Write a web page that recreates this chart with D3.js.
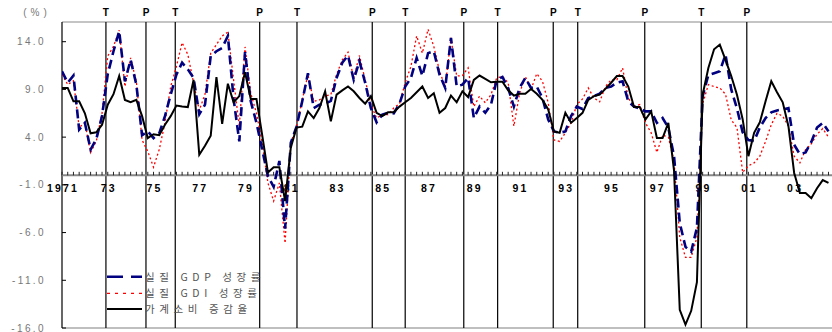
<!DOCTYPE html>
<html>
<head>
<meta charset="utf-8">
<script src="https://cdn.jsdelivr.net/npm/d3@7"></script>
<style>
body { margin: 0; background: #fff; }
svg { display: block; font-family: "Liberation Sans", Arial, sans-serif; }
</style>
</head>
<body>
<div id="chart"></div>
<script>
var width = 832, height = 332;

// quarterly data, 1971Q1 onward (year-on-year %)
var startYear = 1971;
var gdp = [10.9, 9.7, 10.45, 4.8, 5.5, 2.7, 3.8, 6.2, 10.6, 13.0,
    15.1, 9.85, 12.1, 9.5, 4.2, 4.6, 3.9, 4.4, 6.2, 8.45,
    10.55, 11.8, 11.1, 10.2, 6.4, 7.4, 12.5, 13.0, 13.35, 14.6,
    8.0, 3.55, 12.9, 7.75, 5.5, 2.7, -0.1, -1.2, 1.5, -5.6,
    3.4, 5.1, 7.75, 10.7, 7.05, 7.4, 7.5, 7.8, 10.2, 11.8,
    12.55, 10.0, 11.95, 9.7, 7.05, 5.55, 6.35, 6.55, 6.5, 7.5,
    9.3, 10.2, 12.3, 10.4, 12.8, 13.0, 10.55, 9.15, 14.4, 9.3,
    9.5, 10.2, 6.0, 7.2, 6.55, 7.4, 10.0, 10.3, 9.15, 7.2,
    9.15, 10.2, 9.15, 9.3, 8.1, 5.85, 4.6, 4.45, 4.6, 6.2,
    7.2, 6.95, 8.1, 8.3, 8.55, 9.15, 9.3, 9.7, 9.85, 7.75,
    7.2, 7.0, 6.7, 6.7, 5.5, 6.0, 5.0, 2.0, -5.0, -7.5,
    -8.0, -5.5, 8.3, 10.5, 10.7, 10.9, 12.65, 9.0, 7.0, 4.5,
    3.7, 3.6, 5.0, 6.0, 6.6, 6.8, 6.9, 7.05, 3.2, 2.2,
    2.4, 3.5, 5.0, 5.5, 4.6];
var gdi = [10.6, 9.5, 9.9, 5.0, 5.5, 2.4, 3.6, 6.5, 12.5, 13.5,
    15.2, 9.3, 12.3, 9.8, 3.7, 2.5, 0.85, 2.7, 5.5, 9.3,
    11.4, 13.9, 12.65, 9.7, 6.8, 8.5, 12.8, 13.7, 14.6, 15.0,
    10.0, 5.15, 13.45, 8.6, 6.5, 3.4, -0.8, -2.7, -0.8, -7.1,
    3.4, 5.1, 7.9, 10.55, 7.75, 7.9, 8.3, 8.45, 10.55, 12.1,
    12.9, 10.2, 12.55, 10.0, 7.4, 6.0, 6.35, 6.35, 7.05, 7.5,
    9.7, 11.4, 14.6, 12.8, 15.3, 13.5, 10.9, 9.3, 14.4, 10.4,
    10.45, 11.25, 7.2, 8.3, 7.6, 8.45, 10.2, 10.35, 9.7, 5.15,
    8.6, 10.35, 9.0, 10.65, 9.85, 7.6, 3.7, 3.55, 4.45, 5.5,
    7.4, 8.0, 9.15, 8.1, 7.7, 9.3, 10.0, 10.0, 11.25, 8.1,
    7.2, 7.4, 5.5, 4.45, 2.4, 4.2, 4.0, 1.5, -6.5, -8.6,
    -8.6, -6.5, 7.5, 9.5, 9.3, 9.15, 8.5, 5.8, 5.0, 0.3,
    1.0, 1.3, 2.0, 3.55, 5.3, 6.5, 6.2, 5.15, 2.0, 1.3,
    2.7, 3.3, 4.3, 4.9, 4.0];
var consumption = [9.15, 9.15, 7.75, 7.75, 6.5, 4.4, 4.5, 5.3, 7.4, 8.5,
    10.4, 7.9, 7.65, 7.9, 6.2, 3.9, 4.3, 4.2, 5.3, 6.2,
    7.3, 7.2, 7.15, 10.0, 2.15, 3.1, 4.15, 10.3, 5.4, 9.6,
    7.65, 8.3, 10.8, 8.0, 8.0, 4.2, 0.3, 0.85, 0.85, -2.7,
    2.9, 5.0, 5.1, 6.7, 6.0, 7.05, 8.8, 5.65, 8.45, 8.9,
    9.3, 8.8, 8.1, 7.5, 8.3, 6.55, 6.2, 6.6, 6.6, 7.2,
    7.65, 8.1, 8.7, 9.3, 8.1, 8.6, 6.55, 7.05, 8.35, 7.65,
    8.8, 8.2, 10.0, 10.45, 10.1, 9.75, 9.8, 9.8, 8.9, 8.35,
    8.55, 8.55, 9.05, 8.55, 7.9, 6.9, 4.6, 4.45, 6.55, 5.5,
    6.0, 6.55, 7.9, 8.3, 8.45, 9.05, 9.7, 10.4, 10.4, 9.3,
    7.15, 7.15, 5.85, 6.7, 3.9, 3.9, 5.5, 0.5, -14.1, -15.65,
    -14.2, -11.2, 8.45, 11.25, 13.2, 13.7, 12.1, 10.4, 8.45, 5.85,
    2.0, 4.45, 5.55, 7.75, 9.85, 8.7, 7.65, 5.15, 0.25, -1.85,
    -1.85, -2.4, -1.35, -0.5, -0.8];

// business cycle turning points (decimal year)
var cycleDates = [1972.92, 1974.67, 1975.95, 1979.64, 1981.27, 1984.56, 1986.0,
    1988.56, 1990.04, 1992.47, 1993.54, 1996.47, 1998.94, 2000.93];
var cycleLabels = ['T', 'P', 'T', 'P', 'T', 'P', 'T', 'P', 'T', 'P', 'T', 'P', 'T', 'P'];

var yTicks = [14, 9, 4, -1, -6, -11, -16];
var yearTicks = [1971, 1973, 1975, 1977, 1979, 1981, 1983, 1985, 1987, 1989,
    1991, 1993, 1995, 1997, 1999, 2001, 2003];
var yearLabels = ['1971', '73', '75', '77', '79', '81', '83', '85', '87', '89',
    '91', '93', '95', '97', '99', '01', '03'];
var seriesNames = ['실질 GDP 성장률', '실질 GDI 성장률', '가계소비 증감율'];

var plotLeft = 62, plotTop = 22.6, plotBottom = 328;
var x = d3.scaleLinear().domain([1971, 2005]).range([plotLeft, plotLeft + 34 * 22.88]);
var y = d3.scaleLinear().domain([-16, 16]).range([plotBottom, plotTop]);

var svg = d3.select('#chart').append('svg')
    .attr('width', width)
    .attr('height', height);

svg.append('clipPath').attr('id', 'plot')
    .append('rect')
    .attr('x', plotLeft).attr('y', 0)
    .attr('width', width - plotLeft).attr('height', height);

// frame
svg.append('line')
    .attr('x1', plotLeft).attr('x2', width).attr('y1', 22).attr('y2', 22)
    .attr('stroke', '#c4c4c4').attr('stroke-width', 2);
svg.append('line')
    .attr('x1', plotLeft).attr('x2', width).attr('y1', plotBottom).attr('y2', plotBottom)
    .attr('stroke', '#aaa').attr('stroke-width', 1.5);
svg.append('line')
    .attr('x1', plotLeft).attr('x2', plotLeft).attr('y1', 22).attr('y2', plotBottom)
    .attr('stroke', '#000').attr('stroke-width', 1.2);

// y ticks + labels
svg.selectAll('.ytick').data(yTicks).enter().append('line')
    .attr('x1', plotLeft).attr('x2', plotLeft + 4)
    .attr('y1', (d) => y(d)).attr('y2', (d) => y(d))
    .attr('stroke', '#000');
svg.selectAll('.ylab').data(yTicks).enter().append('text')
    .attr('x', 46)
    .attr('y', (d) => y(d) + 3.5)
    .attr('text-anchor', 'end')
    .attr('font-size', 10)
    .attr('letter-spacing', 2.4)
    .attr('fill', '#777')
    .text((d) => d3.format('.1f')(d).replace('−', '-'));

svg.append('text')
    .attr('x', 37).attr('y', 16)
    .attr('text-anchor', 'middle')
    .attr('font-size', 10)
    .attr('letter-spacing', 4)
    .attr('fill', '#777')
    .text('(%)');

// cycle lines
svg.selectAll('.cyc').data(cycleDates).enter().append('line')
    .attr('x1', (d) => x(d)).attr('x2', (d) => x(d))
    .attr('y1', 22).attr('y2', plotBottom)
    .attr('stroke', '#000').attr('stroke-width', 1.2);
svg.selectAll('.cyclab').data(cycleDates).enter().append('text')
    .attr('x', (d) => x(d))
    .attr('y', 16)
    .attr('text-anchor', 'middle')
    .attr('font-size', 10)
    .attr('font-weight', 'bold')
    .text((d, i) => cycleLabels[i]);

// zero axis with quarter ticks
var y0 = y(0);
svg.append('line')
    .attr('x1', plotLeft).attr('x2', width).attr('y1', y0).attr('y2', y0)
    .attr('stroke', '#888').attr('stroke-width', 2);
var quarters = d3.range(0, 136).map((i) => startYear + i / 4);
svg.selectAll('.qtick').data(quarters).enter().append('line')
    .attr('x1', (d) => x(d)).attr('x2', (d) => x(d))
    .attr('y1', y0 - 3.5).attr('y2', y0)
    .attr('stroke', '#222').attr('stroke-width', 1);
svg.selectAll('.xlab').data(yearTicks).enter().append('text')
    .attr('x', (d) => x(d) + 1)
    .attr('y', y0 + 17)
    .attr('text-anchor', 'middle')
    .attr('font-size', 10.5)
    .attr('font-weight', 'bold')
    .attr('letter-spacing', 2.2)
    .text((d, i) => yearLabels[i]);

// series
var line = d3.line()
    .x((d, i) => x(startYear + i / 4))
    .y((d) => y(d));

var styles = [
    { data: gdp, color: '#000080', width: 2.6, dash: '9,5' },
    { data: gdi, color: '#ff0000', width: 1.3, dash: '2,2.5' },
    { data: consumption, color: '#000', width: 2, dash: null }
];

var gLines = svg.append('g').attr('clip-path', 'url(#plot)');
[styles[1], styles[0], styles[2]].forEach((s) => {
    gLines.append('path')
        .datum(s.data)
        .attr('d', line)
        .attr('fill', 'none')
        .attr('stroke', s.color)
        .attr('stroke-width', s.width)
        .attr('stroke-dasharray', s.dash);
});

// legend
var legY = [276.7, 293.3, 309];
styles.forEach((s, i) => {
    svg.append('line')
        .attr('x1', 107).attr('x2', 142)
        .attr('y1', legY[i]).attr('y2', legY[i])
        .attr('stroke', s.color)
        .attr('stroke-width', s.width)
        .attr('stroke-dasharray', i == 0 ? '16,8' : s.dash == null ? null : '3,5');
    svg.append('text')
        .attr('x', 145)
        .attr('y', legY[i] + 4)
        .attr('font-family', '"Noto Sans CJK KR", sans-serif')
        .attr('font-size', 10.5)
        .attr('letter-spacing', 4.6)
        .attr('fill', '#555')
        .text(seriesNames[i]);
});
</script>
</body>
</html>
